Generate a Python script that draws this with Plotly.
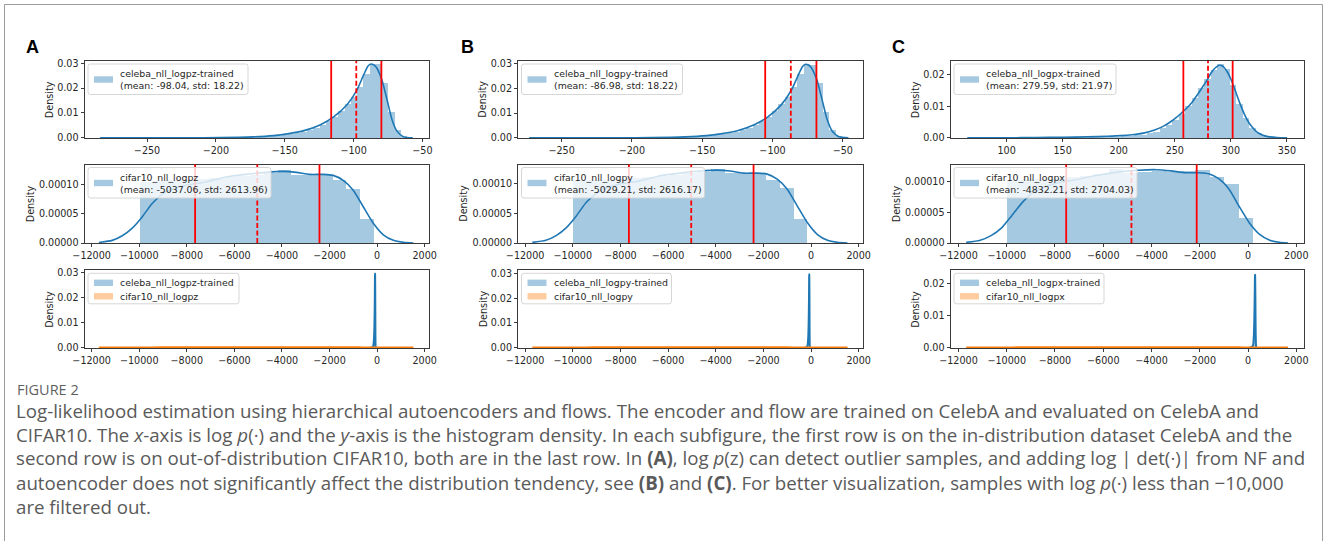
import numpy as np
import plotly.graph_objects as go

W, H = 1328, 541

# ---------------- data ----------------
# Row 1: CelebA (in-distribution) histograms, 50 bins each, density values
A1_edges = np.linspace(-284.0, -57.0, 51)
A1_hist = np.array([0.005, 0.005, 0.005, 0.01, 0.01, 0.01, 0.01, 0.02, 0.02, 0.02,
                    0.03, 0.03, 0.03, 0.04, 0.05, 0.05, 0.06, 0.07, 0.08, 0.09,
                    0.10, 0.12, 0.15, 0.18, 0.25, 0.32, 0.42, 0.6, 0.8, 1.1,
                    1.4, 1.8, 2.4, 3.2, 4.1, 5.3, 6.8, 8.5, 10.8, 13.5,
                    16.5, 20.5, 25.8, 29.8, 29.5, 22.0, 10.5, 3.2, 0.6, 0.1]) * 1e-3
A1_kde_x = [-284, -250, -220, -197, -173, -158, -148, -136, -124, -114.5, -104.8, -97.5,
            -92.7, -89.5, -87.4, -85.5, -83.5, -79.4, -75.7, -72.1, -68.5, -63.7, -57]
A1_kde_y = [0, 0.00002, 0.00005, 0.0001, 0.0004, 0.0009, 0.0016, 0.0029, 0.0053, 0.0084,
            0.0133, 0.0193, 0.0253, 0.0289, 0.0297, 0.0294, 0.0284, 0.0233, 0.0153, 0.0073,
            0.0027, 0.0004, 0]
A1_vlines = [-116.26, -98.04, -79.82]

B1_edges = np.linspace(-273.0, -46.0, 51)
B1_hist = np.array([0.005, 0.005, 0.005, 0.01, 0.01, 0.01, 0.01, 0.02, 0.02, 0.02,
                    0.03, 0.03, 0.03, 0.04, 0.05, 0.05, 0.06, 0.07, 0.08, 0.09,
                    0.10, 0.12, 0.15, 0.18, 0.25, 0.32, 0.42, 0.6, 0.8, 1.1,
                    1.4, 1.8, 2.4, 3.2, 4.1, 5.3, 6.8, 8.5, 10.8, 13.5,
                    16.5, 20.5, 25.8, 29.8, 29.5, 22.0, 10.5, 3.2, 0.6, 0.1]) * 1e-3
B1_kde_x = [-273, -239, -209, -186, -162, -147, -137, -125, -113, -103.5, -93.8, -86.5,
            -81.7, -78.5, -76.4, -74.5, -72.5, -68.4, -64.7, -61.1, -57.5, -52.7, -46]
B1_kde_y = [0, 0.00002, 0.00005, 0.0001, 0.0004, 0.0009, 0.0016, 0.0029, 0.0053, 0.0084,
            0.0133, 0.0193, 0.0253, 0.0289, 0.0297, 0.0294, 0.0284, 0.0233, 0.0153, 0.0073,
            0.0027, 0.0004, 0]
B1_vlines = [-105.20, -86.98, -68.76]

C1_edges = np.linspace(65.0, 350.0, 51)
C1_hist = np.array([0.005, 0.005, 0.005, 0.005, 0.01, 0.01, 0.01, 0.01, 0.02, 0.02,
                    0.02, 0.03, 0.03, 0.04, 0.05, 0.06, 0.07, 0.09, 0.11, 0.14,
                    0.18, 0.22, 0.28, 0.35, 0.45, 0.58, 0.75, 1.0, 1.4, 2.0,
                    3.0, 4.0, 5.6, 7.6, 10.0, 12.6, 15.8, 18.6, 21.5, 23.2,
                    21.6, 16.8, 10.6, 6.2, 3.2, 1.5, 0.6, 0.2, 0.05, 0.01]) * 1e-3
C1_kde_x = [65, 100, 127, 150, 172, 190, 202, 212, 222, 232, 240, 246, 252, 257, 261, 266,
            270, 275, 279, 282, 285, 287.5, 289.5, 291.5, 294, 297, 300, 303, 306, 309,
            312, 315, 318, 323, 328, 333, 341, 350]
C1_kde_y = [0, 0.00003, 0.0001, 0.0002, 0.0003, 0.0005, 0.0007, 0.001, 0.0015, 0.0025,
            0.0037, 0.005, 0.0066, 0.0082, 0.0095, 0.0115, 0.0135, 0.0162, 0.0184, 0.0203,
            0.0217, 0.0225, 0.0229, 0.0228, 0.0222, 0.0207, 0.0185, 0.0158, 0.0128, 0.0100,
            0.0075, 0.0054, 0.0038, 0.0019, 0.0009, 0.0004, 0.0001, 0]
C1_vlines = [257.62, 279.59, 301.56]

# Row 2: CIFAR10 (out-of-distribution) histograms, 17 bins each
A2_edges = np.linspace(-10000.0, -150.0, 18)
A2_hist = np.array([1.06, 1.07, 1.08, 1.08, 1.10, 1.13, 1.14, 1.16, 1.18, 1.20,
                    1.26, 1.18, 1.17, 1.18, 1.08, 0.93, 0.42]) * 1e-4
A2_kde_x = [-11696, -11135, -10713, -10291, -9869, -9446, -8881, -8037, -7192, -6348,
            -5504, -4660, -3959, -3394, -2832, -2270, -1848, -1426, -1004, -582,
            -160, 262, 684, 1107, 1529]
A2_kde_y = np.array([0.01, 0.045, 0.124, 0.254, 0.45, 0.68, 0.876, 0.99, 1.045, 1.13,
                     1.175, 1.21, 1.226, 1.21, 1.175, 1.175, 1.158, 1.073, 0.904, 0.621,
                     0.339, 0.141, 0.045, 0.011, 0]) * 1e-4
A2_vlines = [-7651.02, -5037.06, -2423.10]

B2_edges = np.linspace(-10000.0, -150.0, 18)
B2_hist = np.array([1.06, 1.07, 1.07, 1.09, 1.10, 1.12, 1.14, 1.16, 1.19, 1.21,
                    1.25, 1.18, 1.18, 1.17, 1.07, 0.94, 0.42]) * 1e-4
B2_kde_x = [-11700, -11130, -10700, -10280, -9860, -9440, -8870, -8030, -7180, -6340,
            -5500, -4650, -3950, -3390, -2830, -2260, -1840, -1420, -1000, -575,
            -150, 270, 690, 1110, 1530]
B2_kde_y = np.array([0.01, 0.045, 0.124, 0.254, 0.45, 0.68, 0.876, 0.99, 1.045, 1.13,
                     1.175, 1.21, 1.226, 1.21, 1.175, 1.175, 1.158, 1.073, 0.904, 0.621,
                     0.339, 0.141, 0.045, 0.011, 0]) * 1e-4
B2_vlines = [-7645.38, -5029.21, -2413.04]

C2_edges = np.linspace(-10000.0, 200.0, 18)
C2_hist = np.array([1.03, 1.04, 1.05, 1.06, 1.08, 1.09, 1.12, 1.21, 1.15, 1.16,
                    1.17, 1.16, 1.17, 1.19, 1.08, 0.96, 0.41]) * 1e-4
C2_kde_x = [-11680, -11100, -10650, -10200, -9800, -9350, -8800, -7950, -7100, -6250,
            -5400, -4550, -3800, -3200, -2600, -2050, -1600, -1200, -800, -380,
            50, 480, 900, 1300, 1660]
C2_kde_y = np.array([0.01, 0.045, 0.12, 0.25, 0.44, 0.66, 0.85, 0.97, 1.03, 1.10,
                     1.15, 1.18, 1.19, 1.17, 1.14, 1.14, 1.12, 1.04, 0.88, 0.60,
                     0.33, 0.14, 0.045, 0.011, 0]) * 1e-4
C2_vlines = [-7536.24, -4832.21, -2128.18]

# labels
A_names = ["celeba_nll_logpz-trained", "cifar10_nll_logpz"]
B_names = ["celeba_nll_logpy-trained", "cifar10_nll_logpy"]
C_names = ["celeba_nll_logpx-trained", "cifar10_nll_logpx"]
A_stats = ["(mean: -98.04, std: 18.22)", "(mean: -5037.06, std: 2613.96)"]
B_stats = ["(mean: -86.98, std: 18.22)", "(mean: -5029.21, std: 2616.17)"]
C_stats = ["(mean: 279.59, std: 21.97)", "(mean: -4832.21, std: 2704.03)"]

ticks_small = [-250, -200, -150, -100, -50]
ticks_c1 = [100, 150, 200, 250, 300, 350]
ticks_wide = [-12000, -10000, -8000, -6000, -4000, -2000, 0, 2000]
yt_row1 = [0, 0.01, 0.02, 0.03]
yt_c = [0, 0.01, 0.02]
yt_row2 = [0, 0.00005, 0.0001]

panel_letters = ["A", "B", "C"]
figure_label = "FIGURE 2"
caption_lines = [
    "Log-likelihood estimation using hierarchical autoencoders and flows. The encoder and flow are trained on CelebA and evaluated on CelebA and",
    "CIFAR10. The <i>x</i>-axis is log <i>p</i>(·) and the <i>y</i>-axis is the histogram density. In each subfigure, the first row is on the in-distribution dataset CelebA and the",
    "second row is on out-of-distribution CIFAR10, both are in the last row. In <b>(A)</b>, log <i>p</i>(z) can detect outlier samples, and adding log | det(·)| from NF and",
    "autoencoder does not significantly affect the distribution tendency, see <b>(B)</b> and <b>(C)</b>. For better visualization, samples with log <i>p</i>(·) less than −10,000",
    "are filtered out.",
]

# ---------------- styling / layout ----------------
BLUE = "#1f77b4"
ORANGE = "#ff7f0e"
BLUE_A = "rgba(31,119,180,0.4)"
ORANGE_A = "rgba(255,127,14,0.4)"
TXT = "#262626"
FONT = "DejaVu Sans"
FS = 9.6
LFS = 9.4

COLS = {"A": (84.5, 428.5), "B": (518.0, 862.5), "C": (950.5, 1303.8)}
ROWS = {1: (61.0, 138.3), 2: (164.5, 243.0), 3: (270.3, 348.3)}


def fx(px):
    return px / W


def fy(py):
    return 1 - py / H


def fmt(vals, dec):
    return [f"{v:.{dec}f}".replace("-", "−") for v in vals]


fig = go.Figure()
layout = dict(width=W, height=H, margin=dict(l=0, r=0, t=0, b=0, pad=0, autoexpand=False),
              paper_bgcolor="white", plot_bgcolor="white", showlegend=False,
              barmode="overlay", bargap=0)
shapes = []
annotations = []


def centers(edges):
    e = np.asarray(edges)
    return (e[:-1] + e[1:]) / 2, np.diff(e)


def rounded_rect(x0, y0, x1, y1, r=2.5):
    X, Y = fx, fy
    p = (f"M {X(x0+r)},{Y(y0)} L {X(x1-r)},{Y(y0)} Q {X(x1)},{Y(y0)} {X(x1)},{Y(y0+r)} "
         f"L {X(x1)},{Y(y1-r)} Q {X(x1)},{Y(y1)} {X(x1-r)},{Y(y1)} "
         f"L {X(x0+r)},{Y(y1)} Q {X(x0)},{Y(y1)} {X(x0)},{Y(y1-r)} "
         f"L {X(x0)},{Y(y0+r)} Q {X(x0)},{Y(y0)} {X(x0+r)},{Y(y0)} Z")
    return dict(type="path", xref="paper", yref="paper", path=p,
                fillcolor="rgba(255,255,255,0.8)", line=dict(color="#d6d6d6", width=1),
                layer="above")


def legend(col, row, width, entries, two_line):
    x0 = COLS[col][0] + 3.5
    y0 = ROWS[row][0] + 3.0
    h = 30.5
    shapes.append(rounded_rect(x0, y0, x0 + width, y0 + h))
    if two_line:
        color, l1, l2 = entries[0]
        pc = y0 + 15.5
        shapes.append(dict(type="rect", xref="paper", yref="paper", layer="above",
                           x0=fx(x0 + 6), x1=fx(x0 + 25), y0=fy(pc - 3.2), y1=fy(pc + 3.2),
                           fillcolor=color, line=dict(width=0)))
        for txt, yy in ((l1, y0 + 10), (l2, y0 + 21.5)):
            annotations.append(dict(text=txt, x=fx(x0 + 31), y=fy(yy), xref="paper", yref="paper",
                                    xanchor="left", yanchor="middle", showarrow=False,
                                    font=dict(family=FONT, size=LFS, color=TXT), borderpad=0))
    else:
        for (color, txt), yy in zip(entries, (y0 + 9.5, y0 + 23)):
            shapes.append(dict(type="rect", xref="paper", yref="paper", layer="above",
                               x0=fx(x0 + 6), x1=fx(x0 + 25), y0=fy(yy - 3.2), y1=fy(yy + 3.2),
                               fillcolor=color, line=dict(width=0)))
            annotations.append(dict(text=txt, x=fx(x0 + 31), y=fy(yy), xref="paper", yref="paper",
                                    xanchor="left", yanchor="middle", showarrow=False,
                                    font=dict(family=FONT, size=LFS, color=TXT), borderpad=0))


LEG_BLUE = "rgb(165,201,225)"
LEG_ORANGE = "rgb(255,204,159)"

panels = [
    ("A", 1, [-295.4, -45.6], [-0.00018, 0.0309], ticks_small, 0, yt_row1, 2,
     [(A1_edges, A1_hist, BLUE_A)], [(A1_kde_x, A1_kde_y, BLUE)], A1_vlines,
     (160, [(LEG_BLUE, A_names[0], A_stats[0])], True)),
    ("A", 2, [-12300, 2160], [0, 0.0001344], ticks_wide, 0, yt_row2, 5,
     [(A2_edges, A2_hist, BLUE_A)], [(A2_kde_x, A2_kde_y, BLUE)], A2_vlines,
     (183, [(LEG_BLUE, A_names[1], A_stats[1])], True)),
    ("A", 3, [-12300, 2160], [-0.0003, 0.031], ticks_wide, 0, yt_row1, 2,
     [(A1_edges, A1_hist, BLUE_A), (A2_edges, A2_hist, ORANGE_A)],
     [(A1_kde_x, A1_kde_y, BLUE), (A2_kde_x, A2_kde_y, ORANGE)], [],
     (151, [(LEG_BLUE, A_names[0]), (LEG_ORANGE, A_names[1])], False)),
    ("B", 1, [-281, -36], [-0.00018, 0.031], ticks_small, 0, yt_row1, 2,
     [(B1_edges, B1_hist, BLUE_A)], [(B1_kde_x, B1_kde_y, BLUE)], B1_vlines,
     (161, [(LEG_BLUE, B_names[0], B_stats[0])], True)),
    ("B", 2, [-12300, 2160], [0, 0.000132], ticks_wide, 0, yt_row2, 5,
     [(B2_edges, B2_hist, BLUE_A)], [(B2_kde_x, B2_kde_y, BLUE)], B2_vlines,
     (183, [(LEG_BLUE, B_names[1], B_stats[1])], True)),
    ("B", 3, [-12300, 2160], [-0.0003, 0.0313], ticks_wide, 0, yt_row1, 2,
     [(B1_edges, B1_hist, BLUE_A), (B2_edges, B2_hist, ORANGE_A)],
     [(B1_kde_x, B1_kde_y, BLUE), (B2_kde_x, B2_kde_y, ORANGE)], [],
     (150, [(LEG_BLUE, B_names[0]), (LEG_ORANGE, B_names[1])], False)),
    ("C", 1, [50, 365], [-0.00014, 0.02425], ticks_c1, 0, yt_c, 2,
     [(C1_edges, C1_hist, BLUE_A)], [(C1_kde_x, C1_kde_y, BLUE)], C1_vlines,
     (162, [(LEG_BLUE, C_names[0], C_stats[0])], True)),
    ("C", 2, [-12330, 2310], [0, 0.0001274], ticks_wide, 0, yt_row2, 5,
     [(C2_edges, C2_hist, BLUE_A)], [(C2_kde_x, C2_kde_y, BLUE)], C2_vlines,
     (183, [(LEG_BLUE, C_names[1], C_stats[1])], True)),
    ("C", 3, [-12330, 2310], [-0.00024, 0.0243], ticks_wide, 0, yt_c, 2,
     [(C1_edges, C1_hist, BLUE_A), (C2_edges, C2_hist, ORANGE_A)],
     [(C1_kde_x, C1_kde_y, BLUE), (C2_kde_x, C2_kde_y, ORANGE)], [],
     (150, [(LEG_BLUE, C_names[0]), (LEG_ORANGE, C_names[1])], False)),
]

for i, (col, row, xr, yr, xt, xdec, yt, ydec, hists, kdes, vlines, leg) in enumerate(panels):
    n = "" if i == 0 else str(i + 1)
    xa, ya = "x" + n, "y" + n
    x0, x1 = COLS[col]
    yt0, yb = ROWS[row]
    axcommon = dict(showline=True, mirror=True, linecolor="#3a3a3a", linewidth=1,
                    ticks="outside", ticklen=3, tickwidth=1, tickcolor="#3a3a3a",
                    showgrid=False, zeroline=False, automargin=False,
                    tickfont=dict(family=FONT, size=FS, color=TXT))
    layout["xaxis" + n] = dict(axcommon, domain=[fx(x0), fx(x1)], range=xr, anchor=ya,
                               tickvals=xt, ticktext=fmt(xt, xdec))
    layout["yaxis" + n] = dict(axcommon, domain=[fy(yb), fy(yt0)], range=yr, anchor=xa,
                               tickvals=yt, ticktext=fmt(yt, ydec))
    for edges, hv, colr in hists:
        c, w = centers(edges)
        fig.add_trace(go.Bar(x=c, y=hv, width=w, marker=dict(color=colr, line=dict(width=0)),
                             xaxis=xa, yaxis=ya, hoverinfo="skip"))
    lw = 2.0 if row == 3 else 1.6
    for kx, ky, colr in kdes:
        fig.add_trace(go.Scatter(x=kx, y=ky, mode="lines",
                                 line=dict(color=colr, width=lw, shape="spline", smoothing=0.6),
                                 xaxis=xa, yaxis=ya, hoverinfo="skip"))
    for j, v in enumerate(vlines):
        shapes.append(dict(type="line", xref=xa, yref=ya + " domain", x0=v, x1=v, y0=0, y1=1,
                           line=dict(color="red", width=1.8,
                                     dash="5px,2.5px" if j == 1 else "solid"),
                           layer="above"))
    lx = x0 - (54 if row == 2 else 35)
    annotations.append(dict(text="Density", textangle=-90, x=fx(lx), y=fy((yt0 + yb) / 2),
                            xref="paper", yref="paper", xanchor="center", yanchor="middle",
                            showarrow=False, font=dict(family=FONT, size=FS, color=TXT)))
    legend(col, row, leg[0], leg[1], leg[2])

for letter, (cx, cy) in zip(panel_letters, [(32.5, 46.7), (467.5, 46.7), (898.3, 46.7)]):
    annotations.append(dict(text=f"<b>{letter}</b>", x=fx(cx), y=fy(cy), xref="paper", yref="paper",
                            xanchor="center", yanchor="middle", showarrow=False,
                            font=dict(family="Liberation Sans", size=18, color="black")))

annotations.append(dict(text=figure_label, x=fx(15), y=fy(389), xref="paper", yref="paper",
                        xanchor="left", yanchor="middle", showarrow=False,
                        font=dict(family="Open Sans", size=14.5, color="#5f5f5f")))
for k, line in enumerate(caption_lines):
    annotations.append(dict(text=line, x=fx(14), y=fy(410 + 24 * k), xref="paper", yref="paper",
                            xanchor="left", yanchor="middle", showarrow=False,
                            font=dict(family="Open Sans", size=18.7, color="#5a5a5a")))

shapes.append(dict(type="rect", xref="paper", yref="paper", x0=fx(4.5), x1=fx(1322.5),
                   y0=fy(4.5), y1=fy(620), line=dict(color="#9a9a9a", width=1), layer="below"))

layout["shapes"] = shapes
layout["annotations"] = annotations
fig.update_layout(**layout)
fig.write_html("out.html")
